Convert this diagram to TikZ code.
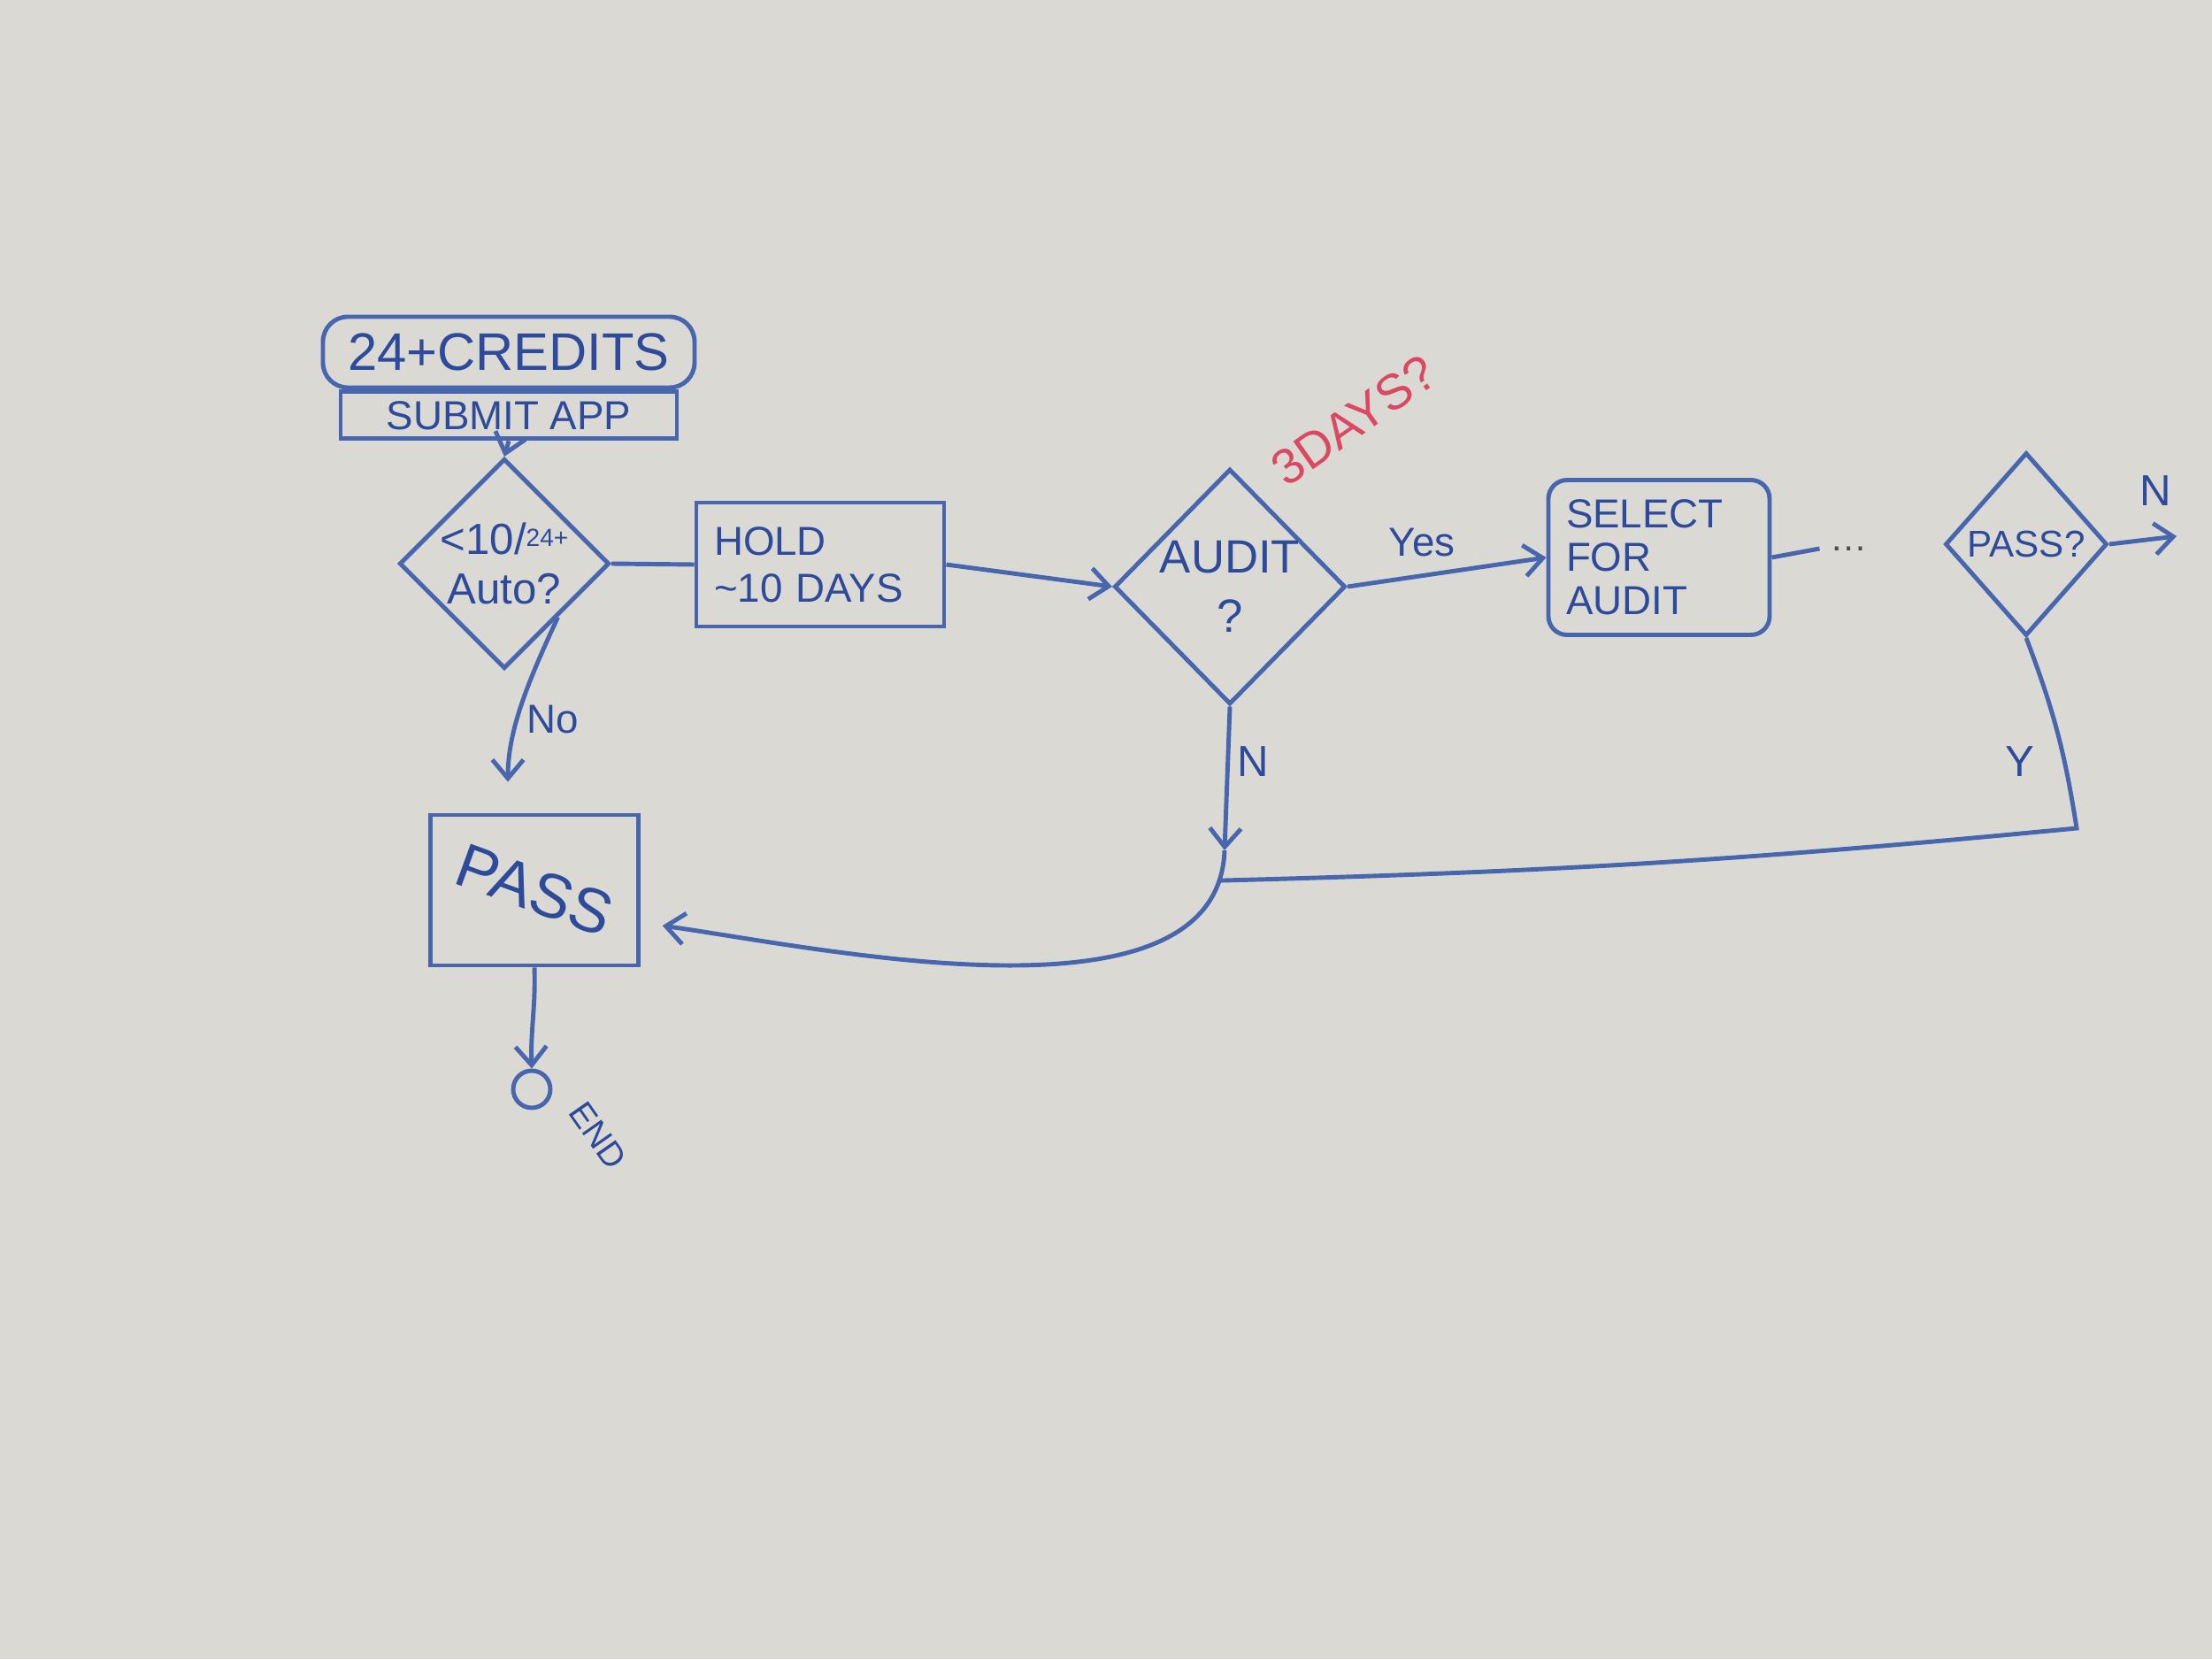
\documentclass[tikz,border=0pt]{standalone}
\usepackage{fontspec}
\setsansfont{Liberation Sans}
\usetikzlibrary{positioning,calc,arrows.meta,shapes.geometric}
\definecolor{boardgrey}{HTML}{DAD9D4}
\definecolor{markerblue}{HTML}{4766AE}
\definecolor{inkblue}{HTML}{2E4B9B}
\definecolor{markerred}{HTML}{DB4862}

\begin{document}
\begin{tikzpicture}[
  box/.style={draw=markerblue, line width=1.4pt, text=inkblue,
              font=\sffamily, inner sep=4pt},
  decision/.style={diamond, aspect=1, draw=markerblue, line width=1.4pt,
              text=inkblue, font=\sffamily, inner sep=0pt, align=center},
  flow/.style={line width=1.4pt, markerblue,
              -{Straight Barb[length=6pt,width=10pt]}},
  link/.style={line width=1.4pt, markerblue},
  edgelbl/.style={text=inkblue, font=\sffamily\fontsize{13}{13}\selectfont},
]

% Whiteboard (fixes the page size).
\fill[boardgrey] (0,0) rectangle (25,18.75);
\useasboundingbox (0,0) rectangle (25,18.75);

% Start: application.
\node[box, rounded corners=8pt, minimum width=4.2cm, minimum height=0.8cm,
      font=\sffamily\fontsize{17}{17}\selectfont] (credits) at (5.75,14.77)
  {24+CREDITS};
\node[box, inner sep=1pt, minimum width=3.8cm, minimum height=0.53cm,
      below=0pt of credits, font=\sffamily\fontsize{13}{13}\selectfont]
  (submit) {SUBMIT APP};

% Main row, left to right.
\node[decision, minimum width=2.25cm, minimum height=2.36cm,
      font=\sffamily\fontsize{14}{16}\selectfont] (auto) at (5.7,12.38)
  {<10/{\fontsize{8}{8}\selectfont\raisebox{.6ex}{24+}}\\Auto?};
\node[box, minimum width=2.8cm, minimum height=1.4cm, align=left,
      text width=2.4cm, font=\sffamily\fontsize{13}{15}\selectfont]
  (hold) at (9.27,12.37) {HOLD\\\textasciitilde 10 DAYS};
\node[decision, minimum width=2.43cm, minimum height=2.66cm,
      font=\sffamily\fontsize{15}{19}\selectfont] (audit) at (13.9,12.12)
  {AUDIT\\?};
\node[box, rounded corners=6pt, minimum width=2.5cm, minimum height=1.75cm,
      align=left, text width=2.1cm, font=\sffamily\fontsize{13}{14}\selectfont]
  (select) at (18.75,12.45) {SELECT\\FOR\\AUDIT};
\node[text=black!70, font=\sffamily\fontsize{12}{12}\selectfont]
  (dots) at (20.9,12.55) {\dots};
\node[decision, minimum width=1.83cm, minimum height=2.07cm,
      font=\sffamily\fontsize{12}{12}\selectfont] (passq) at (22.9,12.6)
  {PASS?};
\coordinate (nout) at (24.6,12.69);

% Outcome and end.
\node[box, minimum width=2.35cm, minimum height=1.7cm] (pass) at (6.04,8.69)
  {\rotatebox{-20}{\fontsize{20}{20}\selectfont PASS}};
\node[draw=markerblue, circle, line width=1.4pt, minimum size=0.42cm,
      inner sep=0pt] (endc) at (6.01,6.44) {};
\node[edgelbl, rotate=-55, font=\sffamily\fontsize{11}{11}\selectfont]
  at (6.76,5.92) {END};

% Red note.
\node[text=markerred, rotate=35, font=\sffamily\fontsize{16}{16}\selectfont]
  at (15.3,14.0) {3DAYS?};

% Connectors.
\draw[flow] (submit.south) -- (auto.north);
\draw[link] (auto.east) -- (hold.west);
\draw[flow] (hold.east) -- (audit.west);
\draw[flow] (audit.east) -- (select.west);
\node[edgelbl] at (16.07,12.62) {Yes};
\draw[link] (select.east) -- (dots.west);
\draw[flow] (passq.east) -- (nout);
\node[edgelbl, font=\sffamily\fontsize{14}{14}\selectfont] at (24.36,13.2) {N};

\draw[flow] (auto.south east) to[out=-115, in=90] ($(pass.north)+(-0.3,0)$)
  [shorten >=0.35cm];
\node[edgelbl] at (6.25,10.62) {No};
\draw[flow] (pass.south) to[out=-88, in=92] (endc.north);

\coordinate (ntip) at (13.84,9.14);
\draw[flow] (audit.south) -- (ntip);
\node[edgelbl, font=\sffamily\fontsize{14}{14}\selectfont] at (14.16,10.14) {N};
\draw[flow, shorten >=0.25cm] (ntip) to[out=-92, in=-8, looseness=0.8]
  coordinate[pos=0.06] (join) (pass.-17);

\coordinate (ycorner) at (23.47,9.39);
\draw[link] (passq.south) to[bend left=6] (ycorner) to[bend left=2] (join);
\node[edgelbl, font=\sffamily\fontsize{14}{14}\selectfont] at (22.83,10.14) {Y};

\end{tikzpicture}
\end{document}
